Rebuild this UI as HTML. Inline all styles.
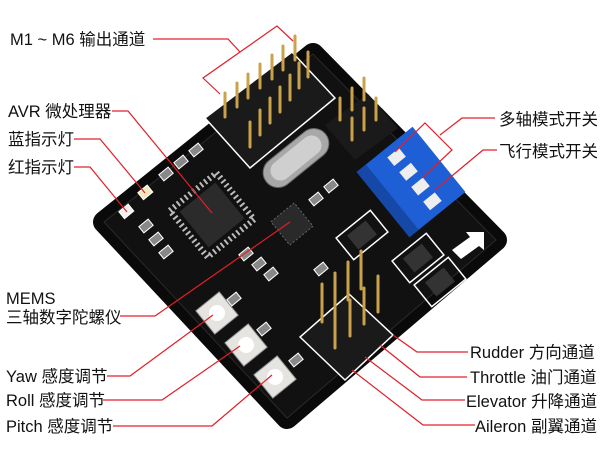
<!DOCTYPE html>
<html><head><meta charset="utf-8"><style>
html,body{margin:0;padding:0;background:#fff;}
svg{display:block}
text{font-family:"Liberation Sans","Noto Sans CJK SC",sans-serif;font-size:16.5px;fill:#111}
</style></head><body>
<svg width="600" height="450" viewBox="0 0 600 450" xmlns="http://www.w3.org/2000/svg">
<!-- board -->
<polygon points="104,222 313,54 496,240 287,418" fill="#0a0a0a" stroke="#0a0a0a" stroke-width="22" stroke-linejoin="round"/>
<polygon points="104,222 313,54 496,240 287,418" fill="#111" stroke="#2a2a2a" stroke-width="1"/>

<!-- M header -->
<polygon points="205,118 250,168 335,98 292,52" fill="#1a1a1a" stroke="#fff" stroke-width="1.5"/>
<g stroke="#c9a24a" stroke-width="3" stroke-linecap="round">
 <line x1="225" y1="117" x2="225" y2="93"/><line x1="237" y1="107" x2="237" y2="83"/><line x1="248" y1="98" x2="248" y2="74"/><line x1="260" y1="88" x2="260" y2="64"/><line x1="272" y1="79" x2="272" y2="55"/><line x1="283" y1="70" x2="283" y2="46"/><line x1="295" y1="60" x2="295" y2="36"/>
 <line x1="250" y1="147" x2="250" y2="122"/><line x1="260" y1="135" x2="260" y2="110"/><line x1="270" y1="123" x2="270" y2="98"/><line x1="280" y1="112" x2="280" y2="87"/><line x1="290" y1="100" x2="290" y2="75"/><line x1="299" y1="88" x2="299" y2="63"/><line x1="308" y1="77" x2="308" y2="52"/>
</g>
<polygon points="325,125 355,160 398,128 368,94" fill="#1a1a1a"/>
<g stroke="#c9a24a" stroke-width="3" stroke-linecap="round">
 <line x1="340" y1="120" x2="340" y2="98"/><line x1="352" y1="110" x2="352" y2="88"/><line x1="364" y1="100" x2="364" y2="78"/>
 <line x1="352" y1="140" x2="352" y2="118"/><line x1="364" y1="130" x2="364" y2="108"/><line x1="376" y1="120" x2="376" y2="98"/>
</g>
<!-- crystal -->
<g transform="translate(296,158) rotate(-39)">
  <rect x="-38" y="-15" width="76" height="30" rx="15" fill="#a8a8a8" stroke="#666"/>
  <rect x="-30" y="-10" width="60" height="20" rx="10" fill="#cfcfcf"/>
</g>
<!-- DIP switch -->
<g transform="translate(411,182) rotate(51)">
  <rect x="-42" y="-36" width="84" height="72" fill="#1f5fd6"/>
  <rect x="-42" y="24" width="84" height="12" fill="#1648a8"/>
  <rect x="-34" y="-12" width="11" height="15" fill="#eee"/>
  <rect x="-15" y="-12" width="11" height="15" fill="#eee"/>
  <rect x="4" y="-12" width="11" height="15" fill="#eee"/>
  <rect x="23" y="-12" width="11" height="15" fill="#eee"/>
</g>
<!-- AVR -->
<g transform="translate(212,215) rotate(-39)">
  <rect x="-30" y="-30" width="60" height="60" fill="none" stroke="#bbb" stroke-width="6" stroke-dasharray="2 3"/>
  <rect x="-23" y="-23" width="46" height="46" fill="#2b2b2b"/>
</g>
<!-- MEMS -->
<g transform="translate(292,224) rotate(-39)">
  <rect x="-15" y="-15" width="30" height="30" fill="#2a2a2a" stroke="#666" stroke-dasharray="2 2"/>
</g>
<!-- regulators -->
<g transform="translate(362,235) rotate(-39)"><rect x="-22" y="-14" width="44" height="28" fill="none" stroke="#fff" stroke-width="1.5"/><rect x="-12" y="-9" width="24" height="18" fill="#333"/></g>
<g transform="translate(418,258) rotate(-39)"><rect x="-22" y="-14" width="44" height="28" fill="none" stroke="#fff" stroke-width="1.5"/><rect x="-12" y="-9" width="24" height="18" fill="#333"/></g>
<g transform="translate(440,282) rotate(-39)"><rect x="-22" y="-14" width="44" height="28" fill="none" stroke="#fff" stroke-width="1.5"/><rect x="-12" y="-9" width="24" height="18" fill="#333"/></g>
<!-- arrow -->
<polygon points="452,250 470,237 466,232 484,232 484,250 479,246 461,259" fill="#fff"/>
<!-- LEDs and SMD -->
<g fill="#ddd" stroke="#fff">
 <rect x="139" y="188" width="12" height="9" transform="rotate(-39 145 192)" fill="#f0e8c0"/>
 <rect x="120" y="207" width="12" height="9" transform="rotate(-39 126 211)" fill="#f0f0f0"/>
 <rect x="160" y="170" width="12" height="8" transform="rotate(-39 166 174)" fill="#888"/>
 <rect x="175" y="158" width="12" height="8" transform="rotate(-39 181 162)" fill="#888"/>
 <rect x="190" y="146" width="12" height="8" transform="rotate(-39 196 150)" fill="#888"/>
 <rect x="140" y="222" width="12" height="8" transform="rotate(-39 146 226)" fill="#888"/>
 <rect x="150" y="235" width="12" height="8" transform="rotate(-39 156 239)" fill="#888"/>
 <rect x="160" y="248" width="12" height="8" transform="rotate(-39 166 252)" fill="#888"/>
 <rect x="240" y="250" width="12" height="8" transform="rotate(-39 246 254)" fill="#888"/>
 <rect x="253" y="260" width="12" height="8" transform="rotate(-39 259 264)" fill="#888"/>
 <rect x="265" y="270" width="12" height="8" transform="rotate(-39 271 274)" fill="#888"/>
 <rect x="310" y="195" width="12" height="8" transform="rotate(-39 316 199)" fill="#888"/>
 <rect x="325" y="182" width="12" height="8" transform="rotate(-39 331 186)" fill="#888"/>
 <rect x="315" y="265" width="12" height="8" transform="rotate(-39 321 269)" fill="#888"/>
 <rect x="228" y="295" width="12" height="8" transform="rotate(-39 234 299)" fill="#888"/>
 <rect x="258" y="325" width="12" height="8" transform="rotate(-39 264 329)" fill="#888"/>
 <rect x="290" y="356" width="12" height="8" transform="rotate(-39 296 360)" fill="#888"/>
</g>
<!-- pots -->
<g fill="#e6e4e0" stroke="#999">
 <rect x="202" y="298" width="30" height="30" transform="rotate(-39 217 313)"/>
 <rect x="231" y="330" width="30" height="30" transform="rotate(-39 246 345)"/>
 <rect x="260" y="362" width="30" height="30" transform="rotate(-39 275 377)"/>
</g>
<g fill="#fff"><circle cx="217" cy="313" r="8"/><circle cx="246" cy="345" r="8"/><circle cx="275" cy="377" r="8"/></g>
<!-- bottom header -->
<polygon points="300,337 345,380 393,335 349,294" fill="#1a1a1a" stroke="#fff" stroke-width="1.5"/>
<g stroke="#c9a24a" stroke-width="3" stroke-linecap="round">
 <line x1="322" y1="322" x2="322" y2="284"/><line x1="335" y1="311" x2="335" y2="273"/><line x1="348" y1="300" x2="348" y2="262"/><line x1="361" y1="289" x2="361" y2="251"/>
 <line x1="335" y1="348" x2="335" y2="312"/><line x1="350" y1="336" x2="350" y2="300"/><line x1="364" y1="324" x2="364" y2="288"/><line x1="378" y1="312" x2="378" y2="276"/>
</g>

<!-- leader lines -->
<g fill="none" stroke="#e0202a" stroke-width="1.2">
 <polyline points="153,39 228,39 240,52"/>
 <polyline points="220,94 203,78 277,26 293,41"/>
 <polyline points="112,111 128,111 212,213"/>
 <polyline points="74,139 100,139 145,193"/>
 <polyline points="74,167 90,167 127,212"/>
 <polyline points="120,316 155,316 290,222"/>
 <polyline points="107,376 130,376 213,315"/>
 <polyline points="103,400 162,400 240,346"/>
 <polyline points="113,426 212,426 272,375"/>
 <polyline points="495,118 462,118 440,135"/>
 <polyline points="395,152 425,123 452,150 422,178"/>
 <polyline points="497,150 483,150 435,190"/>
 <polyline points="468,352 417,352 393,335"/>
 <polyline points="467,377 420,377 380,345"/>
 <polyline points="465,400 422,400 365,357"/>
 <polyline points="475,425 423,425 352,370"/>
</g>

<!-- labels -->
<text x="10" y="45">M1 ~ M6 输出通道</text>
<text x="8" y="117">AVR 微处理器</text>
<text x="8" y="145">蓝指示灯</text>
<text x="8" y="173">红指示灯</text>
<text x="6" y="304">MEMS</text>
<text x="6" y="323">三轴数字陀螺仪</text>
<text x="6" y="382">Yaw 感度调节</text>
<text x="6" y="406">Roll 感度调节</text>
<text x="6" y="432">Pitch 感度调节</text>
<text x="499" y="125">多轴模式开关</text>
<text x="499" y="157">飞行模式开关</text>
<text x="470" y="358">Rudder 方向通道</text>
<text x="470" y="383">Throttle 油门通道</text>
<text x="466" y="407">Elevator 升降通道</text>
<text x="475" y="432">Aileron 副翼通道</text>
</svg>
</body></html>
